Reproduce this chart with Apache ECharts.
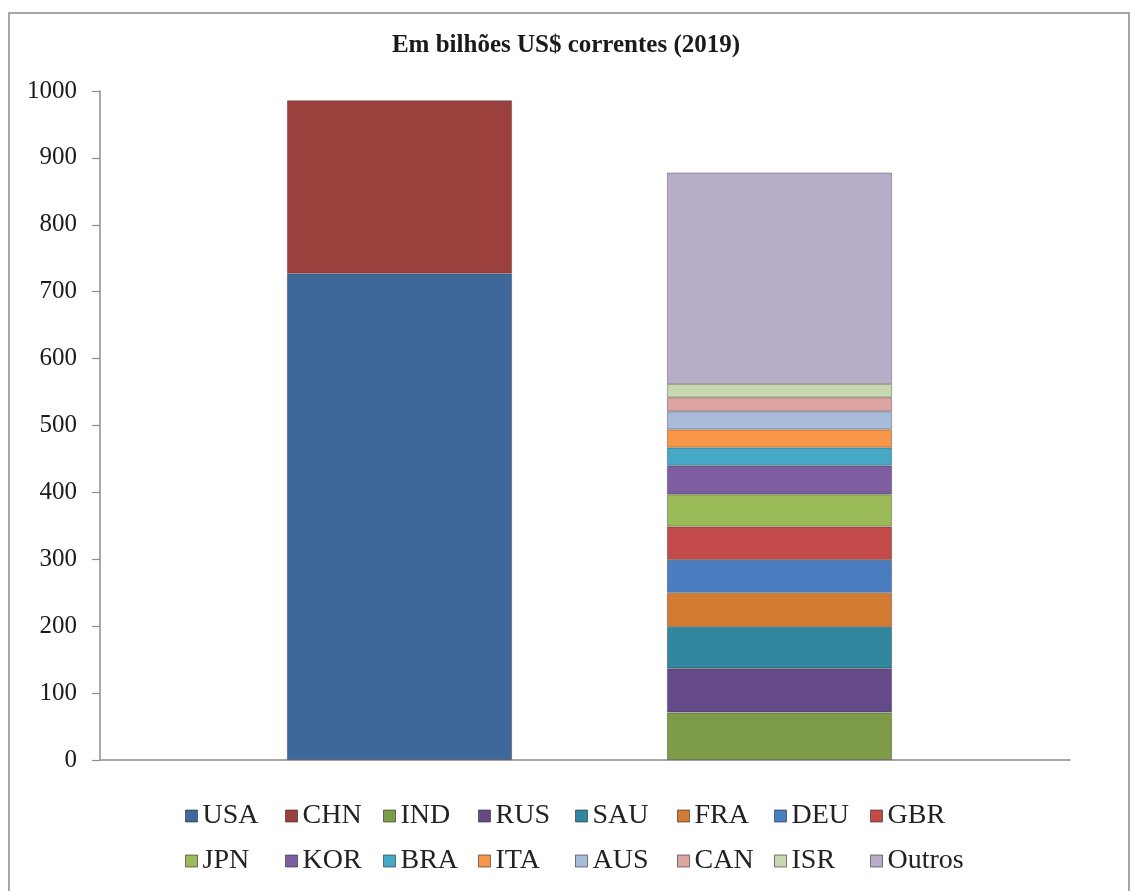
<!DOCTYPE html>
<html>
<head>
<meta charset="utf-8">
<script src="https://cdn.jsdelivr.net/npm/echarts@6/dist/echarts.min.js"></script>
<style>
  html, body { margin: 0; padding: 0; background: #fff; }
  #chart { width: 1132px; height: 891px; }
</style>
</head>
<body>
<div id="chart"></div>
<script>
// Military spending, billions of current US$ (2019)
const stacks = ['EUA e China', 'Demais países'];
const countries = ['USA', 'CHN', 'IND', 'RUS', 'SAU', 'FRA', 'DEU', 'GBR',
                   'JPN', 'KOR', 'BRA', 'ITA', 'AUS', 'CAN', 'ISR', 'Outros'];
const spending = [727, 259, 71, 66, 62, 51, 49, 50, 48, 43, 27, 27, 27, 21, 20, 316];
const stackOf = [0, 0, 1, 1, 1, 1, 1, 1, 1, 1, 1, 1, 1, 1, 1, 1];
const colors = ['#3F689A', '#9C403D', '#7E9B48', '#644A89', '#31889E', '#D37A33',
                '#4B7EC1', '#C24A48', '#9BBB58', '#7F5DA2', '#45A9C6', '#F79646',
                '#A8BBDA', '#DDA5A4', '#C8D9B1', '#B8ADC9'];
const yTicks = [0, 100, 200, 300, 400, 500, 600, 700, 800, 900, 1000];

const serif = '"Liberation Serif", "DejaVu Serif", serif';

const series = countries.map((name, i) => ({
  name: name,
  type: 'bar',
  stack: 'total',
  xAxisIndex: 1,
  yAxisIndex: 1,
  barWidth: 225,
  data: stacks.map((s, k) => (k === stackOf[i] ? spending[i] : null)),
  itemStyle: {
    color: colors[i],
    borderColor: 'rgba(40,40,40,0.45)',
    borderWidth: 0.8
  },
  emphasis: { disabled: true }
}));

// Legend laid out as a 2 x 8 table: one single-entry legend per cell.
const legendCols = [185, 285, 383, 478, 575, 677, 774, 870];
const legendRows = [802, 847];
const legends = countries.map((name, i) => ({
  data: [name],
  left: legendCols[i % 8],
  top: legendRows[Math.floor(i / 8)],
  padding: 0,
  itemWidth: 12,
  itemHeight: 12,
  icon: 'rect',
  itemStyle: { borderColor: 'rgba(40,40,40,0.6)', borderWidth: 1 },
  textStyle: { fontFamily: serif, fontSize: 28, color: '#222' }
}));

const chart = echarts.init(document.getElementById('chart'), null, { renderer: 'canvas' });
chart.setOption({
  backgroundColor: '#fff',
  animation: false,
  title: {
    text: 'Em bilhões US$ correntes (2019)',
    left: 'center',
    top: 28,
    textStyle: { fontFamily: serif, fontWeight: 'bold', fontSize: 25, color: '#1a1a1a' }
  },
  graphic: [{
    type: 'rect',
    shape: { x: 9, y: 13, width: 1120, height: 884 },
    style: { fill: 'none', stroke: '#8a8a8a', lineWidth: 1.5 },
    silent: true
  }],
  legend: legends,
  grid: [
    { left: 100, right: 62, top: 91, bottom: 131 },
    { left: 209.5, right: 162.5, top: 91, bottom: 131 }
  ],
  xAxis: [
    {
      type: 'category',
      gridIndex: 0,
      data: [''],
      axisLine: { lineStyle: { color: '#8c8c8c', width: 1.5 } },
      axisTick: { show: false },
      axisLabel: { show: false },
      splitLine: { show: false }
    },
    {
      type: 'category',
      gridIndex: 1,
      data: stacks,
      axisLine: { show: false },
      axisTick: { show: false },
      axisLabel: { show: false },
      splitLine: { show: false }
    }
  ],
  yAxis: [
    {
      type: 'value',
      gridIndex: 0,
      min: yTicks[0],
      max: yTicks[yTicks.length - 1],
      interval: 100,
      axisLine: { show: true, lineStyle: { color: '#8c8c8c', width: 1.5 } },
      axisTick: { show: true, length: 8, lineStyle: { color: '#8c8c8c', width: 1.2 } },
      axisLabel: {
        fontFamily: serif, fontSize: 25, color: '#1a1a1a', margin: 23,
        formatter: v => String(v)
      },
      splitLine: { show: false }
    },
    {
      type: 'value',
      gridIndex: 1,
      min: yTicks[0],
      max: yTicks[yTicks.length - 1],
      interval: 100,
      show: false,
      splitLine: { show: false }
    }
  ],
  series: series
});
</script>
</body>
</html>
